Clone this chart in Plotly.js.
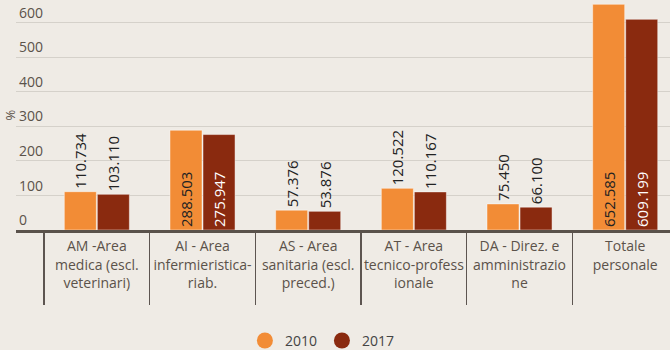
<!DOCTYPE html>
<html>
<head>
<meta charset="utf-8">
<script src="https://cdn.plot.ly/plotly-3.0.1.min.js"></script>
<style>
  html, body { margin: 0; padding: 0; background: #efebe5; }
  #chart { width: 670px; height: 350px; }
</style>
</head>
<body>
<div id="chart"></div>
<script>
// ---- data ----
const categories = [
  "AM -Area<br>medica (escl.<br>veterinari)",
  "AI - Area<br>infermieristica-<br>riab.",
  "AS - Area<br>sanitaria (escl.<br>preced.)",
  "AT - Area<br>tecnico-profess<br>ionale",
  "DA - Direz. e<br>amministrazio<br>ne",
  "Totale<br>personale"
];
const values2010 = [110.734, 288.503, 57.376, 120.522, 75.450, 652.585];
const values2017 = [103.110, 275.947, 53.876, 110.167, 66.100, 609.199];
const seriesNames = ["2010", "2017"];
const yTicks = [0, 100, 200, 300, 400, 500, 600];

// ---- style ----
const orange = "#f28c36";
const darkRed = "#8a2a0f";
const textGray = "#5b524a";
const font = "Open Sans, sans-serif";
const textPos = ["outside", "inside", "outside", "outside", "outside", "inside"];

const traces = [
  {
    type: "bar", x: categories, y: values2010, name: seriesNames[0],
    marker: { color: orange, line: { color: "rgba(255,255,255,0.45)", width: 1 } },
    texttemplate: "%{y:.3f}", textposition: textPos, textangle: -90,
    insidetextanchor: "start", constraintext: "none", cliponaxis: false,
    insidetextfont: { color: "#222", size: 15, family: font },
    outsidetextfont: { color: "#222", size: 15, family: font },
    showlegend: false, hoverinfo: "skip"
  },
  {
    type: "bar", x: categories, y: values2017, name: seriesNames[1],
    marker: { color: darkRed, line: { color: "rgba(255,255,255,0.45)", width: 1 } },
    texttemplate: "%{y:.3f}", textposition: textPos, textangle: -90,
    insidetextanchor: "start", constraintext: "none", cliponaxis: false,
    insidetextfont: { color: "#ffffff", size: 15, family: font },
    outsidetextfont: { color: "#222", size: 15, family: font },
    showlegend: false, hoverinfo: "skip"
  },
  {
    type: "scatter", mode: "markers", x: [categories[0]], y: [null], name: seriesNames[0],
    marker: { color: orange, size: 18, symbol: "circle" }, showlegend: true, hoverinfo: "skip"
  },
  {
    type: "scatter", mode: "markers", x: [categories[0]], y: [null], name: seriesNames[1],
    marker: { color: darkRed, size: 18, symbol: "circle" }, showlegend: true, hoverinfo: "skip"
  }
];

const layout = {
  width: 670, height: 350,
  paper_bgcolor: "#efebe5", plot_bgcolor: "#efebe5",
  margin: { l: 16, r: 0, t: 0, b: 120, pad: 0, autoexpand: false },
  font: { family: font, color: textGray, size: 14 },
  barmode: "group", bargap: 0.375, bargroupgap: 0.03,
  showlegend: true,
  legend: {
    orientation: "h", x: 0.35, xanchor: "left",
    yref: "container", y: 0.026, yanchor: "middle",
    font: { size: 14, color: "#444" }, bgcolor: "rgba(0,0,0,0)", itemsizing: "trace"
  },
  xaxis: {
    type: "category", range: [-0.765, 5.424], fixedrange: true,
    showline: true, linecolor: "#5a524b", linewidth: 2.5,
    ticks: "outside", tickson: "boundaries", ticklen: 72, tickwidth: 1.5, tickcolor: "#5d5550",
    tickangle: 0, ticklabelstandoff: 2, automargin: false,
    tickfont: { size: 14, color: textGray, family: font },
    showgrid: false, zeroline: false
  },
  yaxis: {
    range: [0, 665.06], fixedrange: true, automargin: false,
    tickvals: yTicks, ticktext: yTicks.map(String),
    ticklabelposition: "inside top", ticks: "",
    showgrid: true, gridcolor: "#d5d1ca", gridwidth: 1,
    zeroline: false, showline: false,
    tickfont: { size: 14, color: textGray, family: font },
    title: { text: "%", font: { size: 13, color: textGray }, standoff: 0 }
  }
};

Plotly.newPlot("chart", traces, layout, { displayModeBar: false, staticPlot: true });
</script>
</body>
</html>
